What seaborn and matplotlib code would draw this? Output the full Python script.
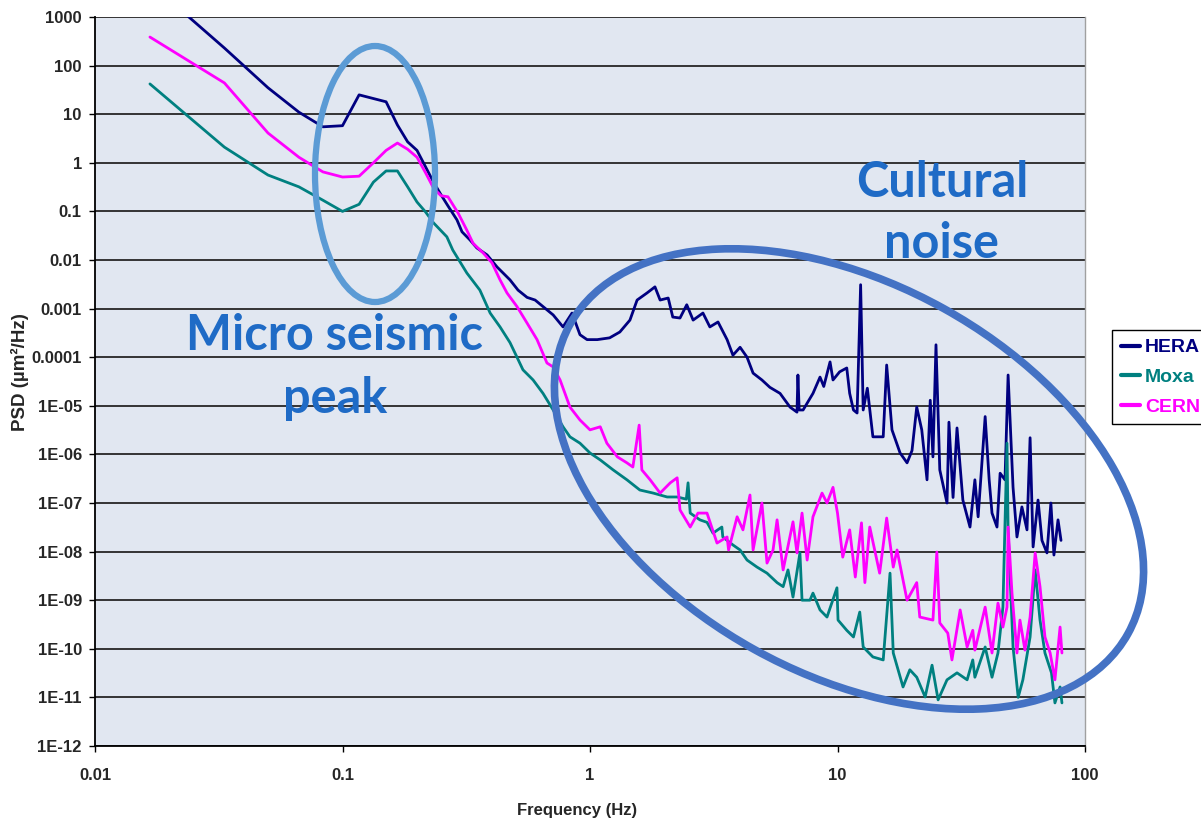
import matplotlib
matplotlib.use("Agg")
import matplotlib.pyplot as plt
from matplotlib.patches import Ellipse
from matplotlib.lines import Line2D
from matplotlib.ticker import NullLocator
import numpy as np
import pandas as pd
import seaborn as sns

# ---------------------------------------------------------------------------
# Ground-motion power spectral densities, PSD in um^2/Hz versus frequency in Hz
# ---------------------------------------------------------------------------
hera_freq = [0.01667, 0.03333, 0.05, 0.06667, 0.08333, 0.1, 0.1167, 0.1333, 0.15, 0.1667,
             0.1833, 0.2, 0.2167, 0.2333, 0.25, 0.2667, 0.29, 0.304, 0.327, 0.349,
             0.384, 0.421, 0.475, 0.512, 0.557, 0.6, 0.646, 0.71, 0.778, 0.846,
             0.911, 0.973, 1.07, 1.2, 1.32, 1.45, 1.55, 1.7, 1.83, 1.92,
             2.07, 2.16, 2.31, 2.46, 2.61, 2.86, 3.05, 3.29, 3.58, 3.78,
             4.04, 4.31, 4.56, 4.95, 5.33, 5.86, 6.43, 6.86, 6.92, 7.0,
             7.26, 7.96, 8.5, 8.8, 9.33, 9.59, 10.2, 10.9, 11.2, 11.6,
             12.0, 12.4, 12.7, 13.2, 13.9, 15.3, 15.8, 16.6, 17.9, 19.1,
             20.0, 20.9, 21.9, 23.0, 23.7, 24.3, 25.0, 25.9, 27.7, 28.2,
             29.3, 30.4, 32.1, 34.3, 35.9, 37.0, 39.5, 41.0, 42.1, 44.1,
             45.4, 47.5, 48.9, 51.2, 53.1, 55.6, 58.3, 60.0, 61.7, 64.6,
             67.0, 70.2, 72.8, 74.9, 77.8, 80.0]
hera_psd = [5000, 230, 35, 11, 5.5, 5.8, 25, 21, 18, 6.0,
            2.7, 1.8, 0.82, 0.4, 0.22, 0.13, 0.067, 0.038, 0.026, 0.0177,
            0.0127, 0.0072, 0.0039, 0.0024, 0.0017, 0.0015, 0.0011, 7.4e-4, 4.2e-4, 8.1e-4,
            2.9e-4, 2.3e-4, 2.3e-4, 2.5e-4, 3.3e-4, 5.8e-4, 1.5e-3, 2.1e-3, 2.8e-3, 1.5e-3,
            1.65e-3, 6.7e-4, 6.4e-4, 1.2e-3, 5.8e-4, 8.1e-4, 4.2e-4, 5.3e-4, 2.3e-4, 1.1e-4,
            1.6e-4, 1.0e-4, 4.7e-5, 3.4e-5, 2.4e-5, 1.8e-5, 9.4e-6, 7.4e-6, 4.3e-5, 8.2e-6,
            8.2e-6, 1.8e-5, 3.9e-5, 2.5e-5, 8.0e-5, 3.4e-5, 5.0e-5, 6.0e-5, 1.8e-5, 8.2e-6,
            7.1e-6, 3.1e-3, 8.2e-6, 2.3e-5, 2.3e-6, 2.3e-6, 6.9e-5, 3.2e-6, 1.07e-6, 6.7e-7,
            1.2e-6, 9.4e-6, 3.2e-6, 3.0e-7, 1.3e-5, 8.9e-7, 1.8e-4, 4.8e-7, 1.0e-7, 4.6e-6,
            1.3e-7, 3.5e-6, 1.15e-7, 3.2e-8, 3.0e-7, 5.2e-8, 6.0e-6, 3.0e-7, 6.2e-8, 3.2e-8,
            4.1e-7, 3.0e-7, 4.3e-5, 2.1e-7, 2.0e-8, 8.3e-8, 2.8e-8, 2.2e-6, 1.25e-8, 1.15e-7,
            1.7e-8, 9.4e-9, 1.0e-7, 8.5e-9, 4.5e-8, 1.7e-8]

moxa_freq = [0.01667, 0.03333, 0.05, 0.06667, 0.08333, 0.1, 0.1167, 0.1333, 0.15, 0.1667,
             0.1833, 0.2, 0.2167, 0.2333, 0.264, 0.279, 0.318, 0.359, 0.395, 0.433,
             0.475, 0.507, 0.536, 0.589, 0.646, 0.71, 0.778, 0.83, 0.911, 1.0,
             1.1, 1.24, 1.41, 1.59, 1.8, 2.05, 2.25, 2.45, 2.49, 2.54,
             2.78, 2.97, 3.14, 3.41, 3.44, 3.78, 4.04, 4.31, 4.73, 5.19,
             5.7, 6.03, 6.31, 6.61, 7.05, 7.19, 7.74, 7.96, 8.5, 9.07,
             9.95, 10.05, 10.9, 11.6, 12.3, 12.7, 13.9, 15.3, 16.3, 16.8,
             18.4, 19.6, 20.9, 22.6, 24.1, 25.5, 27.7, 30.4, 33.4, 35.2,
             35.9, 39.5, 42.1, 44.5, 46.6, 48.4, 48.9, 51.2, 53.7, 56.1,
             60.0, 62.9, 65.8, 68.9, 73.2, 75.6, 79.3, 80.7]
moxa_psd = [42, 2.1, 0.56, 0.32, 0.17, 0.10, 0.14, 0.40, 0.68, 0.68,
            0.32, 0.156, 0.097, 0.058, 0.030, 0.016, 0.0054, 0.0024, 8.1e-4, 4.2e-4,
            2.0e-4, 1.0e-4, 5.5e-5, 3.4e-5, 1.8e-5, 8.2e-6, 3.7e-6, 2.3e-6, 1.7e-6, 1.07e-6,
            7.7e-7, 4.8e-7, 3.0e-7, 1.85e-7, 1.6e-7, 1.33e-7, 1.33e-7, 1.2e-7, 2.6e-7, 6.2e-8,
            4.5e-8, 4.0e-8, 2.4e-8, 3.2e-8, 2.0e-8, 1.37e-8, 1.08e-8, 6.7e-9, 4.8e-9, 3.6e-9,
            2.3e-9, 1.9e-9, 4.2e-9, 1.16e-9, 9.4e-9, 1.0e-9, 1.0e-9, 1.4e-9, 6.3e-10, 4.5e-10,
            1.8e-9, 3.9e-10, 2.4e-10, 1.75e-10, 5.7e-10, 1.09e-10, 6.8e-11, 5.9e-11, 3.6e-9, 8.2e-11,
            1.64e-11, 3.7e-11, 2.6e-11, 1.02e-11, 4.6e-11, 8.9e-12, 2.3e-11, 3.2e-11, 2.3e-11, 5.9e-11,
            2.6e-11, 1.09e-10, 2.6e-11, 8.2e-11, 7.2e-10, 1.7e-6, 2.8e-8, 1.09e-10, 1.0e-11, 2.3e-11,
            1.75e-10, 4.2e-9, 3.9e-10, 8.2e-11, 3.2e-11, 7.7e-12, 1.64e-11, 7.7e-12]

cern_freq = [0.01667, 0.03333, 0.05, 0.06667, 0.08333, 0.1, 0.1167, 0.1333, 0.15, 0.1667,
             0.1833, 0.2, 0.2167, 0.2333, 0.25, 0.2667, 0.293, 0.318, 0.337, 0.37,
             0.402, 0.433, 0.462, 0.507, 0.556, 0.611, 0.67, 0.71, 0.757, 0.83,
             0.911, 1.0, 1.1, 1.17, 1.29, 1.41, 1.49, 1.58, 1.62, 1.75,
             1.92, 2.11, 2.25, 2.31, 2.54, 2.73, 2.97, 3.26, 3.58, 3.63,
             3.93, 4.15, 4.43, 4.56, 4.95, 5.19, 5.49, 5.7, 6.03, 6.61,
             6.86, 7.19, 7.54, 7.96, 8.66, 9.07, 9.59, 10.0, 10.5, 11.2,
             11.8, 12.5, 12.9, 13.5, 14.8, 15.8, 16.8, 17.4, 19.1, 20.9,
             21.5, 24.3, 25.2, 25.9, 27.9, 29.0, 31.3, 33.4, 35.2, 35.9,
             39.5, 42.1, 44.5, 46.6, 48.4, 48.9, 50.7, 53.1, 54.6, 57.2,
             60.0, 62.9, 65.8, 68.9, 72.3, 75.6, 79.3, 80.7]
cern_psd = [387, 44, 4.1, 1.3, 0.65, 0.51, 0.53, 1.0, 1.8, 2.55,
            1.9, 1.3, 0.62, 0.30, 0.21, 0.20, 0.093, 0.041, 0.022, 0.014,
            0.0087, 0.0039, 0.0021, 0.0011, 5.1e-4, 2.3e-4, 7.6e-5, 6.3e-5, 3.4e-5, 9.4e-6,
            5.1e-6, 3.2e-6, 3.7e-6, 1.7e-6, 8.9e-7, 6.7e-7, 5.5e-7, 4.0e-6, 4.8e-7, 3.0e-7,
            1.6e-7, 2.6e-7, 3.3e-7, 7.2e-8, 3.2e-8, 6.2e-8, 6.2e-8, 1.5e-8, 2.0e-8, 1.08e-8,
            5.2e-8, 2.8e-8, 1.46e-7, 1.08e-8, 1.0e-7, 5.8e-9, 1.08e-8, 4.5e-8, 4.2e-9, 4.1e-8,
            9.4e-9, 6.2e-8, 6.7e-9, 5.2e-8, 1.6e-7, 1.0e-7, 2.1e-7, 6.2e-8, 7.7e-9, 2.8e-8,
            3.0e-9, 3.9e-8, 2.3e-9, 3.2e-8, 3.6e-9, 4.9e-8, 4.8e-9, 1.08e-8, 1.0e-9, 2.3e-9,
            4.5e-10, 3.9e-10, 9.8e-9, 3.4e-10, 2.1e-10, 5.9e-11, 6.3e-10, 1.09e-10, 2.4e-10, 9.4e-11,
            7.2e-10, 8.2e-11, 8.7e-10, 2.8e-10, 7.2e-10, 3.2e-8, 1.4e-9, 8.2e-11, 3.9e-10, 9.4e-11,
            4.5e-10, 9.4e-9, 1.9e-9, 1.75e-10, 8.2e-11, 2.3e-11, 2.8e-10, 8.2e-11]

sites = ["HERA", "Moxa", "CERN"]
site_colors = {"HERA": "#000080", "Moxa": "#008080", "CERN": "#FF00FF"}

y_ticks = [1e3, 1e2, 1e1, 1e0, 1e-1, 1e-2, 1e-3, 1e-4, 1e-5, 1e-6,
           1e-7, 1e-8, 1e-9, 1e-10, 1e-11, 1e-12]
y_tick_labels = ["1000", "100", "10", "1", "0.1", "0.01", "0.001", "0.0001", "1E-05", "1E-06",
                 "1E-07", "1E-08", "1E-09", "1E-10", "1E-11", "1E-12"]
x_ticks = [0.01, 0.1, 1, 10, 100]
x_tick_labels = ["0.01", "0.1", "1", "10", "100"]

# ---------------------------------------------------------------------------
sns.set_style("white")
plt.rcParams["font.family"] = ["Liberation Sans", "DejaVu Sans"]

W, H = 1201, 822
fig = plt.figure(figsize=(W / 100, H / 100), dpi=100)
fig.patch.set_facecolor("white")

ax = fig.add_axes([95 / W, 1 - 746 / H, (1085 - 95) / W, (746 - 17) / H])
ax.set_facecolor("#E1E7F1")
ax.set_xscale("log")
ax.set_yscale("log")

spectra = pd.concat([
    pd.DataFrame({"freq": hera_freq, "psd": hera_psd, "site": "HERA"}),
    pd.DataFrame({"freq": moxa_freq, "psd": moxa_psd, "site": "Moxa"}),
    pd.DataFrame({"freq": cern_freq, "psd": cern_psd, "site": "CERN"}),
], ignore_index=True)

sns.lineplot(data=spectra, x="freq", y="psd", hue="site", hue_order=sites,
             palette=site_colors, estimator=None, sort=False, linewidth=2.0,
             legend=False, ax=ax)

ax.set_xlim(0.01, 100)
ax.set_ylim(1e-12, 1e3)
ax.set_xlabel("")
ax.set_ylabel("")

ax.set_yticks(y_ticks)
ax.set_yticklabels(y_tick_labels, fontsize=12, fontweight="bold")
ax.set_xticks(x_ticks)
ax.set_xticklabels(x_tick_labels, fontsize=12, fontweight="bold")
ax.xaxis.set_minor_locator(NullLocator())
ax.yaxis.set_minor_locator(NullLocator())
ax.tick_params(axis="y", which="major", direction="out", length=4.5, width=1.0,
               color="black", pad=5, left=True)
ax.tick_params(axis="x", which="major", direction="out", length=4.5, width=1.0,
               color="black", pad=11, bottom=True)

ax.grid(False)
ax.set_axisbelow(True)
ax.yaxis.grid(True, color="#262626", linewidth=1.3)

ax.spines["top"].set_visible(False)
ax.spines["right"].set_color("#A0A0A0")
ax.spines["right"].set_linewidth(1.0)
for side in ("left", "bottom"):
    ax.spines[side].set_color("black")
    ax.spines[side].set_linewidth(1.3)

fig.text(577 / W, 1 - 810 / H, "Frequency (Hz)", ha="center", va="center",
         fontsize=12, fontweight="bold")
fig.text(20 / W, 1 - 372 / H, "PSD (µm²/Hz)", ha="center", va="center",
         rotation=90, fontsize=13.5, fontweight="bold")

# legend at the right edge
handles = [Line2D([], [], color=site_colors[s], linewidth=3) for s in sites]
leg = fig.legend(handles, sites, loc="upper left",
                 bbox_to_anchor=(1112 / W, 1 - 330 / H), borderaxespad=0,
                 frameon=True, fancybox=False, edgecolor="black", facecolor="white",
                 framealpha=1, prop={"size": 14, "weight": "bold"},
                 handlelength=1.0, handletextpad=0.25, labelspacing=0.62,
                 borderpad=0.45)
leg.get_frame().set_linewidth(1.0)
for txt, s in zip(leg.get_texts(), sites):
    txt.set_color(site_colors[s])

# annotation layer in pixel units
ov = fig.add_axes([0, 0, 1, 1])
ov.set_xlim(0, W)
ov.set_ylim(H, 0)
ov.axis("off")

ov.add_patch(Ellipse((375, 174), 120, 256, fill=False, edgecolor="#5B9BD5", linewidth=4.5))
ov.add_patch(Ellipse((849, 479), 638, 390, angle=29, fill=False,
                     edgecolor="#4472C4", linewidth=5.5))

note_style = dict(ha="center", va="baseline", color="#1F6BC6", fontsize=35,
                  fontweight="bold", family=["Lato", "DejaVu Sans"])
ov.text(334, 350, "Micro seismic", **note_style)
ov.text(335, 413, "peak", **note_style)
ov.text(942, 197, "Cultural", **note_style)
ov.text(941, 258, "noise", **note_style)

fig.savefig("out.png", dpi=100)
